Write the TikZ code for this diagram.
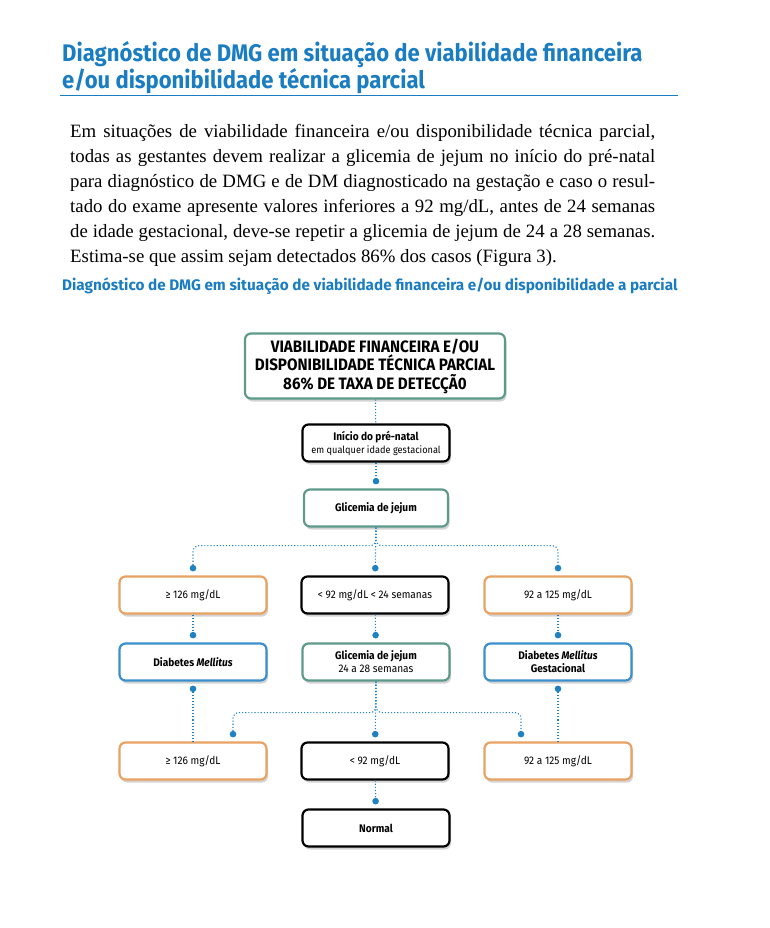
\documentclass[tikz,border=0pt]{standalone}
\usepackage{fontspec}
\setmainfont{Liberation Serif}
\setsansfont{Fira Sans}
\newfontfamily\condfont[FakeStretch=0.92]{Fira Sans}
\usetikzlibrary{positioning,shadows,arrows.meta}
\definecolor{titleblue}{HTML}{1B7DC1}
\definecolor{dotblue}{HTML}{1F80C2}
\definecolor{boxorange}{HTML}{E9A262}
\definecolor{boxblue}{HTML}{3A8FCC}
\definecolor{boxteal}{HTML}{5E9A8A}
\tikzset{
  flowbox/.style={rounded corners=6pt, fill=white, line width=2.2pt,
    minimum width=147pt, minimum height=37pt, align=center, inner sep=2pt,
    font=\condfont\fontsize{11}{13}\selectfont,
    drop shadow={shadow xshift=1.5pt, shadow yshift=-3pt, opacity=0.35}},
  orangebox/.style={flowbox, draw=boxorange},
  bluebox/.style={flowbox, draw=boxblue},
  tealbox/.style={flowbox, draw=boxteal},
  blackbox/.style={flowbox, draw=black},
  link/.style={dotblue, line width=1.1pt, dotted, rounded corners=6pt},
  dotend/.style={-{Circle[length=6.5pt]}, shorten >=4pt},
  dotstart/.style={{Circle[length=6.5pt]}-, shorten <=4pt},
  heading/.style={titleblue, inner sep=0pt, font=\condfont\bfseries\fontsize{24}{28}\selectfont}
}
\begin{document}
\begin{tikzpicture}[x=1pt, y=1pt]
  \useasboundingbox (0,0) rectangle (770,-928);
  % title and text
  \node[heading, anchor=base west] (title1) at (62,-62) {Diagnóstico de DMG em situação de viabilidade financeira};
  \node[heading, anchor=base west] (title2) at (62,-89) {e/ou disponibilidade técnica parcial};
  \draw[titleblue, line width=0.9pt] (60,-95) -- (678,-95);
  \node[anchor=north west, inner sep=0pt, text width=585pt, align=justify,
        font=\fontsize{18.8}{25}\selectfont] (intro) at (70,-124)
    {Em situações de viabilidade financeira e/ou disponibilidade técnica parcial,\linebreak
     todas as gestantes devem realizar a glicemia de jejum no início do pré-natal\linebreak
     para diagnóstico de DMG e de DM diagnosticado na gestação e caso o resul-\linebreak
     tado do exame apresente valores inferiores a 92 mg/dL, antes de 24 semanas\linebreak
     de idade gestacional, deve-se repetir a glicemia de jejum de 24 a 28 semanas.\linebreak
     Estima-se que assim sejam detectados 86\% dos casos (Figura 3).};
  \node[heading, anchor=base west, font=\sffamily\bfseries\fontsize{15.3}{18}\selectfont] (caption) at (62,-290)
    {Diagnóstico de DMG em situação de viabilidade financeira e/ou disponibilidade a parcial};

  % flowchart
  \node[tealbox, minimum width=260pt, minimum height=65pt,
        font=\condfont\bfseries\fontsize{16.5}{18.5}\selectfont] (top) at (375,-366)
    {VIABILIDADE FINANCEIRA E/OU\\DISPONIBILIDADE TÉCNICA PARCIAL\\86\% DE TAXA DE DETECÇÃ0};
  \node[blackbox] (start) at (376,-443)
    {\textbf{Início do pré-natal}\\{\fontsize{10}{12}\selectfont em qualquer idade gestacional}};
  \node[tealbox, minimum width=144pt] (glic) at (376,-508) {\textbf{Glicemia de jejum}};

  \node[orangebox] (lo1) at (193,-595) {≥ 126 mg/dL};
  \node[blackbox] (mid1) at (375,-595) {< 92 mg/dL < 24 semanas};
  \node[orangebox] (hi1) at (558,-595) {92 a 125 mg/dL};

  \node[bluebox] (lo2) at (193,-662) {\textbf{Diabetes \textit{Mellitus}}};
  \node[tealbox] (mid2) at (376,-662) {\textbf{Glicemia de jejum}\\24 a 28 semanas};
  \node[bluebox] (hi2) at (558,-662) {\textbf{Diabetes \textit{Mellitus}}\\\textbf{Gestacional}};

  \node[orangebox] (lo3) at (193,-761) {≥ 126 mg/dL};
  \node[blackbox] (mid3) at (375,-761) {< 92 mg/dL};
  \node[orangebox] (hi3) at (558,-761) {92 a 125 mg/dL};

  \node[blackbox] (normal) at (376,-828) {\textbf{Normal}};

  \draw[link] (top) -- (start);
  \draw[link, dotend] (start) -- (glic);
  \draw[link, dotend] (glic.south) -- ++(0,-18) -| (lo1.north);
  \draw[link, dotend] (glic.south) -- ++(0,-18) -| (hi1.north);
  \draw[link, dotend] (glic) -- (mid1);
  \draw[link, dotend] (lo1) -- (lo2);
  \draw[link, dotend] (mid1) -- (mid2);
  \draw[link, dotend] (hi1) -- (hi2);
  \draw[link, dotstart] (lo2) -- (lo3);
  \draw[link, dotstart] (hi2) -- (hi3);
  \draw[link, dotend] (mid2.south) -- ++(0,-31) -| ([xshift=40pt]lo3.north);
  \draw[link, dotend] (mid2.south) -- ++(0,-31) -| ([xshift=-37pt]hi3.north);
  \draw[link, dotend] (mid2) -- (mid3);
  \draw[link, dotend] (mid3) -- (normal);
\end{tikzpicture}
\end{document}
